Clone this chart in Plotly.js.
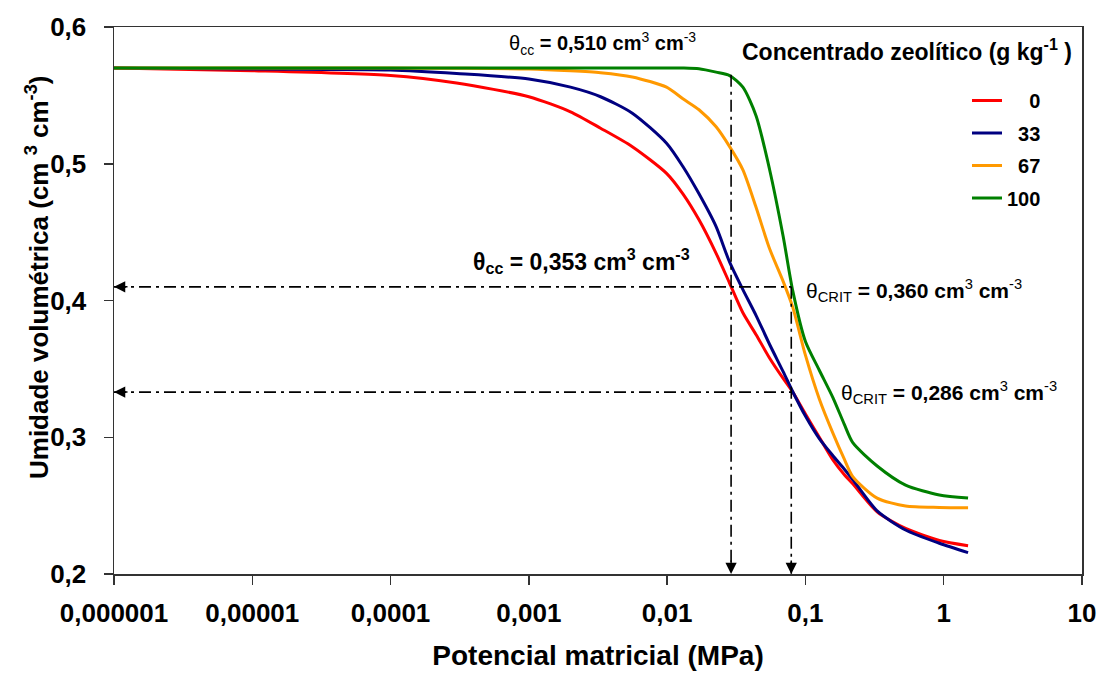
<!DOCTYPE html>
<html>
<head>
<meta charset="utf-8">
<script src="https://cdn.plot.ly/plotly-3.0.1.min.js"></script>
<style>html,body{margin:0;padding:0;background:#fff;}#chart{width:1099px;height:680px;}</style>
</head>
<body>
<div id="chart"></div>
<script>
// Matric potential (MPa)
const potential = [1e-6, 1e-5, 1e-4, 3e-4, 1e-3, 2e-3, 3.3e-3, 5.6e-3, 0.0099, 0.013, 0.017, 0.0226, 0.0283, 0.0353, 0.044, 0.055, 0.069, 0.081, 0.1, 0.126, 0.158, 0.19, 0.22, 0.33, 0.53, 0.93, 1.5];
// Volumetric water content (cm3 cm-3) per zeolite dose
const theta0   = [0.570, 0.568, 0.5645, 0.559, 0.549, 0.538, 0.526, 0.5125, 0.493, 0.478, 0.459, 0.4345, 0.4126, 0.391, 0.375, 0.358, 0.343, 0.333, 0.317, 0.300, 0.2835, 0.273, 0.266, 0.2455, 0.2333, 0.2245, 0.2207];
const theta33  = [0.570, 0.5693, 0.5686, 0.566, 0.562, 0.556, 0.549, 0.537, 0.515, 0.498, 0.478, 0.454, 0.428, 0.408, 0.389, 0.368, 0.348, 0.3333, 0.3155, 0.299, 0.2865, 0.277, 0.269, 0.2461, 0.2322, 0.2225, 0.2156];
const theta67  = [0.570, 0.570, 0.570, 0.5698, 0.5693, 0.568, 0.5666, 0.5635, 0.556, 0.5475, 0.5395, 0.527, 0.5125, 0.4955, 0.468, 0.438, 0.414, 0.395, 0.360, 0.328, 0.303, 0.2845, 0.2712, 0.2555, 0.2497, 0.2487, 0.2485];
const theta100 = [0.570, 0.570, 0.570, 0.570, 0.570, 0.570, 0.570, 0.570, 0.570, 0.570, 0.5695, 0.567, 0.5645, 0.556, 0.535, 0.496, 0.447, 0.407, 0.370, 0.349, 0.329, 0.310, 0.296, 0.279, 0.265, 0.2578, 0.2556];
const seriesNames = ['0', '33', '67', '100'];
const seriesLabels = ['\u2007\u20070', '\u200733', '\u200767', '100'];
const seriesColors = ['#FF0000', '#000080', '#FF9900', '#008000'];

// Reference lines
const thetaCCx = 0.029, thetaCritX = 0.079;
const thetaCCtop = 0.565, levelCC = 0.41, levelCrit = 0.333;
const axisMinX = 1e-6, axisMinY = 0.2;

const xTickVals = [1e-6, 1e-5, 1e-4, 1e-3, 1e-2, 1e-1, 1, 10];
const xTickText = ['0,000001', '0,00001', '0,0001', '0,001', '0,01', '0,1', '1', '10'];
const yTickVals = [0.2, 0.3, 0.4, 0.5, 0.6];
const yTickText = ['0,2', '0,3', '0,4', '0,5', '0,6'];

const FONT = 'Liberation Sans, Arial, sans-serif';
const allY = [theta0, theta33, theta67, theta100];

const traces = allY.map((ys, i) => ({
  x: potential, y: ys, type: 'scatter', mode: 'lines',
  name: seriesLabels[i], legendgroup: 'g' + i,
  line: {color: seriesColors[i], width: 3, shape: 'spline', smoothing: 0.7},
  hoverinfo: 'x+y'
}));

const dashStyle = {color: '#000', width: 1.6, dash: '12px,5px,3px,5px'};
const refLines = [
  {x: [thetaCCx, thetaCCx], y: [thetaCCtop, axisMinY]},
  {x: [thetaCritX, thetaCritX], y: [levelCC, axisMinY]},
  {x: [axisMinX, thetaCritX], y: [levelCC, levelCC]},
  {x: [axisMinX, thetaCritX], y: [levelCrit, levelCrit]}
].map(d => Object.assign(d, {type: 'scatter', mode: 'lines', line: dashStyle, showlegend: false, hoverinfo: 'skip'}));

// plot area in px
const L = 114, T = 27, W = 968, H = 547;
const px = v => (v - L) / W;
const py = v => (T + H - v) / H;

function arrow(x, y, ax, ay) {
  return {x: Math.log10(x), y: y, xref: 'x', yref: 'y', ax: ax, ay: ay, text: '', showarrow: true,
    arrowhead: 2, arrowsize: 1.5, arrowwidth: 1.5, arrowcolor: '#000'};
}
function label(text, cx, cy, size, angle) {
  return {text: text, x: px(cx), y: py(cy), xref: 'paper', yref: 'paper', xanchor: 'center', yanchor: 'middle',
    showarrow: false, textangle: angle || 0, font: {family: FONT, size: size, color: '#000'}};
}

const annotations = [
  arrow(thetaCCx, axisMinY, 0, -15),
  arrow(thetaCritX, axisMinY, 0, -15),
  arrow(axisMinX, levelCC, 15, 0),
  arrow(axisMinX, levelCrit, 15, 0),
  label('θ<sub>cc</sub> <b>= 0,510 cm</b><sup>3</sup><b> cm</b><sup>-3</sup>', 602, 44, 20),
  label('<b>θ<sub>cc</sub> = 0,353 cm<sup>3</sup> cm<sup>-3</sup></b>', 581, 261, 23),
  label('θ<sub>CRIT</sub> <b>= 0,360 cm</b><sup>3</sup><b> cm</b><sup>-3</sup>', 914, 290, 21),
  label('θ<sub>CRIT</sub> <b>= 0,286 cm</b><sup>3</sup><b> cm</b><sup>-3</sup>', 949, 392, 21),
  label('<b>Concentrado zeolítico (g kg<sup>-1</sup> )</b>', 907, 50, 23),
  label('<b>Umidade volumétrica (cm <sup>3</sup> cm<sup>-3</sup>)</b>', 37, 278, 26, -90)
];

const axisCommon = {
  showline: true, linecolor: '#333', linewidth: 1.5, mirror: true,
  ticks: 'outside', ticklen: 9, tickwidth: 1.5, tickcolor: '#333',
  showgrid: false, zeroline: false,
  tickfont: {family: FONT, size: 26, color: '#000', weight: 'bold'}
};

const layout = {
  width: 1099, height: 680,
  margin: {l: L, r: 1099 - L - W, t: T, b: 680 - T - H},
  paper_bgcolor: '#fff', plot_bgcolor: '#fff',
  font: {family: FONT, color: '#000'},
  xaxis: Object.assign({}, axisCommon, {
    type: 'log', range: [-6, 1], tickmode: 'array', tickvals: xTickVals, ticktext: xTickText,
    ticklabelstandoff: 6,
    title: {text: '<b>Potencial matricial (MPa)</b>', font: {family: FONT, size: 28, color: '#000'}, standoff: 18}
  }),
  yaxis: Object.assign({}, axisCommon, {
    range: [0.2, 0.6], tickmode: 'array', tickvals: yTickVals, ticktext: yTickText,
    ticklabelstandoff: 12
  }),
  legend: {
    x: px(967), y: py(81), xanchor: 'left', yanchor: 'top',
    font: {family: FONT, size: 20, color: '#000', weight: 'bold'},
    bgcolor: 'rgba(0,0,0,0)', tracegroupgap: 3.5
  },
  annotations: annotations,
  showlegend: true
};

Plotly.newPlot('chart', traces.concat(refLines), layout, {displayModeBar: false, staticPlot: true});
</script>
</body>
</html>
